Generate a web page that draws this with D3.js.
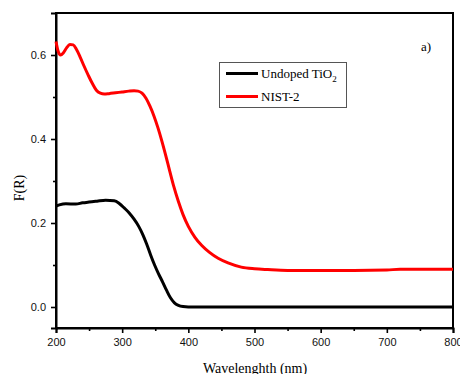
<!DOCTYPE html>
<html>
<head>
<meta charset="utf-8">
<script src="https://cdn.jsdelivr.net/npm/d3@7"></script>
<style>
  html, body { margin: 0; padding: 0; background: #fff; }
  svg { display: block; }
</style>
</head>
<body>
<svg id="chart" width="460" height="374"></svg>
<script>
// Kubelka-Munk function F(R) vs wavelength for the two samples
const xTicks = [200, 300, 400, 500, 600, 700, 800];
const yTicks = [0.0, 0.2, 0.4, 0.6];
const xMinorTicks = [250, 350, 450, 550, 650, 750];
const yMinorTicks = [0.1, 0.3, 0.5];

const seriesNames = ["Undoped TiO2", "NIST-2"];
const seriesColors = ["#000000", "#ff0000"];

const undopedWl = [200, 205, 215, 230, 240, 250, 262, 275, 288, 296, 303, 310, 318, 325, 331, 337, 343, 349, 355, 361, 367, 373, 379, 385, 392, 400, 450, 500, 550, 600, 650, 700, 750, 800];
const undopedFR = [0.240, 0.243, 0.246, 0.245, 0.248, 0.250, 0.252, 0.254, 0.253, 0.246, 0.236, 0.225, 0.209, 0.192, 0.173, 0.150, 0.124, 0.100, 0.079, 0.060, 0.040, 0.022, 0.010, 0.004, 0.001, 0.000, 0.000, 0.000, 0.000, 0.000, 0.000, 0.000, 0.000, 0.000];

const nistWl = [200, 203, 207, 211, 216, 221, 226, 231, 236, 242, 249, 255, 261, 267, 273, 280, 290, 300, 310, 318, 324, 330, 336, 342, 348, 354, 360, 366, 372, 378, 385, 392, 400, 410, 420, 432, 445, 460, 480, 500, 520, 550, 600, 650, 700, 720, 750, 800];
const nistFR = [0.632, 0.610, 0.600, 0.605, 0.617, 0.625, 0.624, 0.613, 0.597, 0.575, 0.551, 0.532, 0.516, 0.509, 0.507, 0.508, 0.510, 0.512, 0.514, 0.515, 0.514, 0.509, 0.497, 0.478, 0.455, 0.427, 0.395, 0.360, 0.323, 0.287, 0.251, 0.220, 0.192, 0.166, 0.147, 0.130, 0.116, 0.105, 0.095, 0.091, 0.089, 0.087, 0.087, 0.087, 0.088, 0.090, 0.090, 0.090];

const svg = d3.select("#chart");
const plotLeft = 56, plotRight = 453, plotTop = 13, plotBottom = 328;

const x = d3.scaleLinear().domain([200, 800]).range([plotLeft, plotRight]);
const y = d3.scaleLinear().domain([-0.05, 0.7]).range([plotBottom, plotTop]);

// frame
svg.append("rect")
  .attr("x", plotLeft).attr("y", plotTop)
  .attr("width", plotRight - plotLeft).attr("height", plotBottom - plotTop)
  .attr("fill", "none").attr("stroke", "#000").attr("stroke-width", 2);

// bottom axis
svg.append("g").attr("transform", `translate(0,${plotBottom})`)
  .call(d3.axisBottom(x).tickValues(xTicks).tickFormat(d3.format("d")).tickSize(5).tickPadding(5));
svg.append("g").attr("transform", `translate(0,${plotBottom})`)
  .call(d3.axisBottom(x).tickValues(xMinorTicks).tickFormat("").tickSize(3))
  .call(g => g.select(".domain").remove());

// left axis
svg.append("g").attr("transform", `translate(${plotLeft},0)`)
  .call(d3.axisLeft(y).tickValues(yTicks).tickFormat(d3.format(".1f")).tickSize(5).tickPadding(5));
svg.append("g").attr("transform", `translate(${plotLeft},0)`)
  .call(d3.axisLeft(y).tickValues(yMinorTicks).tickFormat("").tickSize(3))
  .call(g => g.select(".domain").remove());

svg.selectAll(".domain").attr("stroke-width", 2);
svg.selectAll(".tick line").attr("stroke-width", 1.6);
svg.selectAll(".tick text")
  .attr("font-family", "Liberation Sans, Arial, sans-serif")
  .attr("font-size", 11).attr("fill", "#111");

// curves
const line = d3.line().x(d => x(d[0])).y(d => y(d[1])).curve(d3.curveMonotoneX);
const series = [
  d3.zip(undopedWl, undopedFR),
  d3.zip(nistWl, nistFR)
];
svg.selectAll("path.curve").data(series).enter().append("path")
  .attr("class", "curve")
  .attr("d", line)
  .attr("fill", "none")
  .attr("stroke", (d, i) => seriesColors[i])
  .attr("stroke-width", 3)
  .attr("stroke-linejoin", "round");

// axis titles
svg.append("text")
  .attr("x", 255).attr("y", 373)
  .attr("text-anchor", "middle")
  .attr("font-family", "Liberation Serif, Times New Roman, serif")
  .attr("font-size", 14)
  .text("Wavelenghth (nm)");

svg.append("text")
  .attr("transform", "translate(24,188) rotate(-90)")
  .attr("text-anchor", "middle")
  .attr("font-family", "Liberation Serif, Times New Roman, serif")
  .attr("font-size", 14)
  .text("F(R)");

// panel label
svg.append("text")
  .attr("x", 421).attr("y", 51)
  .attr("font-family", "Liberation Serif, Times New Roman, serif")
  .attr("font-size", 13)
  .text("a)");

// legend
const lg = svg.append("g");
lg.append("rect")
  .attr("x", 219.5).attr("y", 62.5).attr("width", 127).attr("height", 45)
  .attr("fill", "#fff").attr("stroke", "#555").attr("stroke-width", 1);
const rowsY = [73.5, 96.5];
seriesNames.forEach((name, i) => {
  lg.append("line")
    .attr("x1", 226).attr("x2", 258)
    .attr("y1", rowsY[i]).attr("y2", rowsY[i])
    .attr("stroke", seriesColors[i]).attr("stroke-width", 3);
  const t = lg.append("text")
    .attr("x", 261).attr("y", rowsY[i] + 4.5)
    .attr("font-family", "Liberation Serif, Times New Roman, serif")
    .attr("font-size", 13);
  if (name === "Undoped TiO2") {
    t.append("tspan").text("Undoped TiO");
    t.append("tspan").attr("font-size", 9).attr("dy", 4).text("2");
  } else {
    t.text(name);
  }
});
</script>
</body>
</html>
